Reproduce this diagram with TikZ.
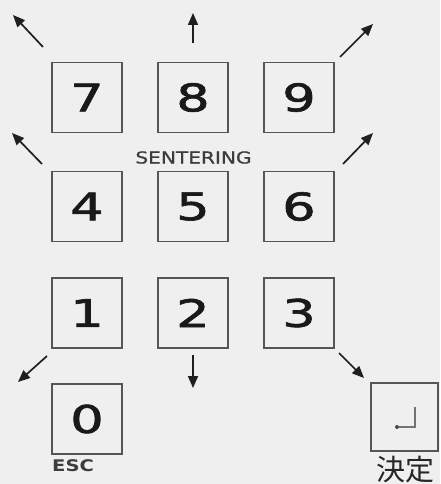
\documentclass[tikz,border=0pt]{standalone}
\usepackage{fontspec}
\setmainfont{DejaVu Sans}
\newfontfamily\digitfont[FakeBold=1.6]{DejaVu Sans}
\newfontfamily\labelfont[FakeBold=0.8]{DejaVu Sans}
\newfontfamily\cjkfont{Noto Sans CJK JP}
\usetikzlibrary{arrows.meta}
\newcommand\keydigit[1]{\scalebox{1.38}[1]{#1}}
\newcommand\widetext[1]{\scalebox{1.22}[1]{#1}}
\definecolor{bgc}{HTML}{EFEFEF}
\definecolor{boxc}{HTML}{555555}
\definecolor{txtc}{HTML}{3C3C3C}
\begin{document}
\begin{tikzpicture}[x=1pt,y=-1pt,
  keybox/.style={draw=boxc, line width=1.3pt, minimum width=70pt, minimum height=70pt, inner sep=0pt, font=\digitfont\fontsize{38}{40}\selectfont, text=black!90},
  dirarrow/.style={draw=black!88, line width=1.7pt, -{Triangle[length=12pt,width=10pt]}},
  smalllabel/.style={inner sep=0pt, text=txtc}]
\useasboundingbox (0,0) rectangle (440,484);
\clip (0,0) rectangle (440,484);
\fill[bgc] (0,0) rectangle (440,484);
% keys
\node[keybox] (k7) at (87,97.5) {\keydigit{7}};
\node[keybox] (k8) at (193,97.5) {\keydigit{8}};
\node[keybox] (k9) at (299,97.5) {\keydigit{9}};
\node[keybox] (k4) at (87,206.5) {\keydigit{4}};
\node[keybox] (k5) at (193,206.5) {\keydigit{5}};
\node[keybox] (k6) at (299,206.5) {\keydigit{6}};
\node[keybox] (k1) at (87,313) {\keydigit{1}};
\node[keybox] (k2) at (193,313) {\keydigit{2}};
\node[keybox] (k3) at (299,313) {\keydigit{3}};
\node[keybox] (k0) at (87,419) {\keydigit{0}};
\node[keybox, minimum width=67pt, minimum height=68pt] (kent) at (404.5,417) {};
% enter symbol
\coordinate (entA) at (415,407);
\coordinate (entB) at (415,427);
\coordinate (entC) at (397,427);
\draw[line width=1.2pt, draw=black!55] (entA) -- (entB) -- (entC);
\fill[black!70] (entC) circle (2pt);
% labels
\node[smalllabel, font=\labelfont\fontsize{16.5}{18}\selectfont, anchor=center] (sent) at (193.5,157.5) {\widetext{SENTERING}};
\node[smalllabel, font=\bfseries\fontsize{16}{18}\selectfont, anchor=west] (esc) at (52,466) {\widetext{ESC}};
\node[inner sep=0pt, font=\cjkfont\fontsize{29}{31}\selectfont, text=black!85, anchor=base] (kettei) at (405,480) {決定};
% arrows
\coordinate (t1) at (43,47);   \coordinate (h1) at (13,15);
\coordinate (t2) at (193,43);  \coordinate (h2) at (193,13);
\coordinate (t3) at (340,57);  \coordinate (h3) at (373,24);
\coordinate (t4) at (42,164);  \coordinate (h4) at (12,133);
\coordinate (t5) at (343,164); \coordinate (h5) at (373,133);
\coordinate (t6) at (47,356);  \coordinate (h6) at (18,382);
\coordinate (t7) at (193,355); \coordinate (h7) at (193,388);
\coordinate (t8) at (339,353); \coordinate (h8) at (364,378);
\foreach \i in {1,...,8} {\draw[dirarrow] (t\i) -- (h\i);}
\end{tikzpicture}
\end{document}
